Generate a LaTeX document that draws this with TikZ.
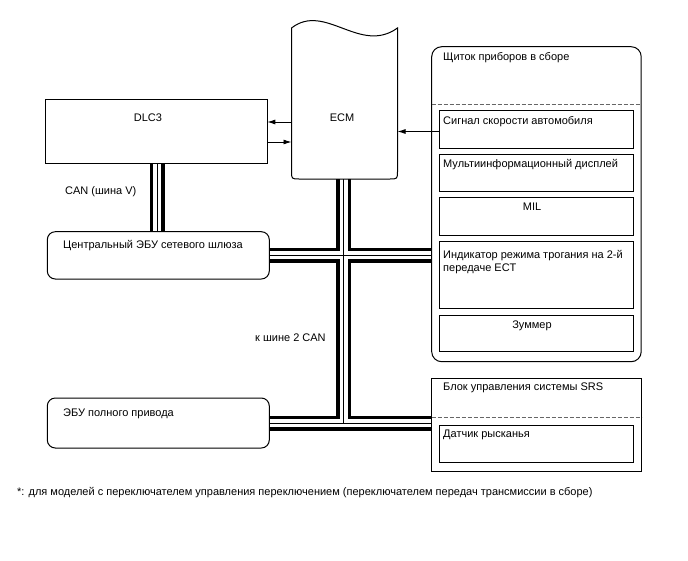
\documentclass[tikz,border=0pt]{standalone}
\usepackage{fontspec}
\setmainfont{Liberation Sans}
\usetikzlibrary{arrows.meta}
\pgfdeclarelayer{bg}
\pgfsetlayers{bg,main}
\begin{document}
\begin{tikzpicture}[x=1pt,y=-1pt,
  box/.style={draw, line width=1pt, inner sep=0pt, outer sep=0pt, anchor=north west},
  rbox/.style={box, rounded corners=8pt},
  txt/.style={inner sep=0pt, font=\fontsize{11}{13.3}\selectfont, anchor=west, align=left},
  ctxt/.style={txt, anchor=center},
  arr/.style={line width=0.9pt, -{Latex[length=8pt,width=5pt]}},
  busA/.style={line width=15pt, black},
  busB/.style={line width=8pt, white},
  busC/.style={line width=0.9pt, black},
  sep/.style={draw=black!60, line width=1pt, dash pattern=on 4pt off 2pt}]
\useasboundingbox (0,0) rectangle (688,560);

% ---- boxes ----
\node[box, minimum width=222.3pt, minimum height=64pt] (dlc3) at (45,99) {};
\node[inner sep=0pt, outer sep=0pt, anchor=north west, minimum width=106pt, minimum height=151pt] (ecm) at (291.5,28) {};
\draw[line width=1pt] (ecm.north west) .. controls (325,2) and (360,55) .. (ecm.north east)
  -- ([yshift=8pt]ecm.south east) .. controls (ecm.south east) .. ([xshift=-8pt]ecm.south east)
  -- ([xshift=8pt]ecm.south west) .. controls (ecm.south west) .. ([yshift=8pt]ecm.south west) -- cycle;

\node[rbox, rounded corners=10pt, minimum width=209.5pt, minimum height=315pt] (ip) at (431.7,46.7) {};
\coordinate (ipd) at (431.7,104.3);
\draw[sep] (ipd) -- (ipd -| ip.east);
\node[box, minimum width=194pt, minimum height=37.6pt] (spd) at (439,110.7) {};
\node[box, minimum width=194pt, minimum height=37.4pt] (mfd) at (439,154.3) {};
\node[box, minimum width=194pt, minimum height=37.7pt] (mil) at (439,197.3) {};
\node[box, minimum width=194pt, minimum height=67.3pt] (ind) at (439,241) {};
\node[box, minimum width=194pt, minimum height=36.7pt] (buz) at (439,315) {};

\node[rbox, minimum width=222pt, minimum height=47.3pt] (gw) at (47.3,231.7) {};
\node[rbox, minimum width=222pt, minimum height=50pt] (fwd) at (47.3,398) {};

\node[box, minimum width=210pt, minimum height=93.4pt] (srs) at (431.7,378.3) {};
\coordinate (srsd) at (431.7,417.7);
\draw[sep] (srsd) -- (srsd -| srs.east);
\node[box, minimum width=194pt, minimum height=37.3pt] (yaw) at (439,425) {};

% ---- texts ----
\node[ctxt] (tdlc3) at (148,118) {DLC3};
\node[ctxt] (tecm) at (342,118) {ECM};
\node[txt] (tip) at (443,58) {Щиток приборов в сборе};
\node[txt] (tspd) at (443,121.7) {Сигнал скорости автомобиля};
\node[txt] (tmfd) at (443,165) {Мультиинформационный дисплей};
\node[ctxt] (tmil) at (532,207) {MIL};
\node[txt, anchor=north west] (tind) at (443,250) {Индикатор режима трогания на 2-й\\передаче ECT};
\node[ctxt] (tbuz) at (532,326) {Зуммер};
\node[txt] (tsrs) at (443,388) {Блок управления системы SRS};
\node[txt] (tyaw) at (443,435) {Датчик рысканья};
\node[txt] (tgw) at (63,246) {Центральный ЭБУ сетевого шлюза};
\node[txt] (tfwd) at (63,414) {ЭБУ полного привода};
\node[txt] (tcanv) at (65,192) {CAN (шина V)};
\node[txt] (tcan2) at (255,338) {к шине 2 CAN};
\node[txt] (tnote) at (17,493) {*: для моделей с переключателем управления переключением (переключателем передач трансмиссии в сборе)};

% ---- arrows ----
\coordinate (d1) at ([yshift=9pt]dlc3.east);
\coordinate (d2) at ([yshift=-11pt]dlc3.east);
\coordinate (s1) at ([yshift=-2pt]spd.west);
\draw[arr] (ecm.west |- d1) -- (d1);
\draw[arr] (d2) -- (ecm.west |- d2);
\draw[arr] (s1) -- (ecm.east |- s1);

% ---- buses ----
\begin{pgfonlayer}{bg}
\fill[white] (0,0) rectangle (688,560);
\coordinate (b1) at ([xshift=1pt]dlc3.south);
\coordinate (b2) at ([xshift=-1pt]ecm.south);
\foreach \st in {busA,busB,busC}{
  \draw[\st] (b1) -- (b1 |- gw.north);
  \draw[\st] (b2) -- (b2 |- fwd.east);
  \draw[\st] (gw.east) -- (gw.east -| ip.west);
  \draw[\st] (fwd.east) -- (fwd.east -| srs.west);
}
\end{pgfonlayer}
\end{tikzpicture}
\end{document}
